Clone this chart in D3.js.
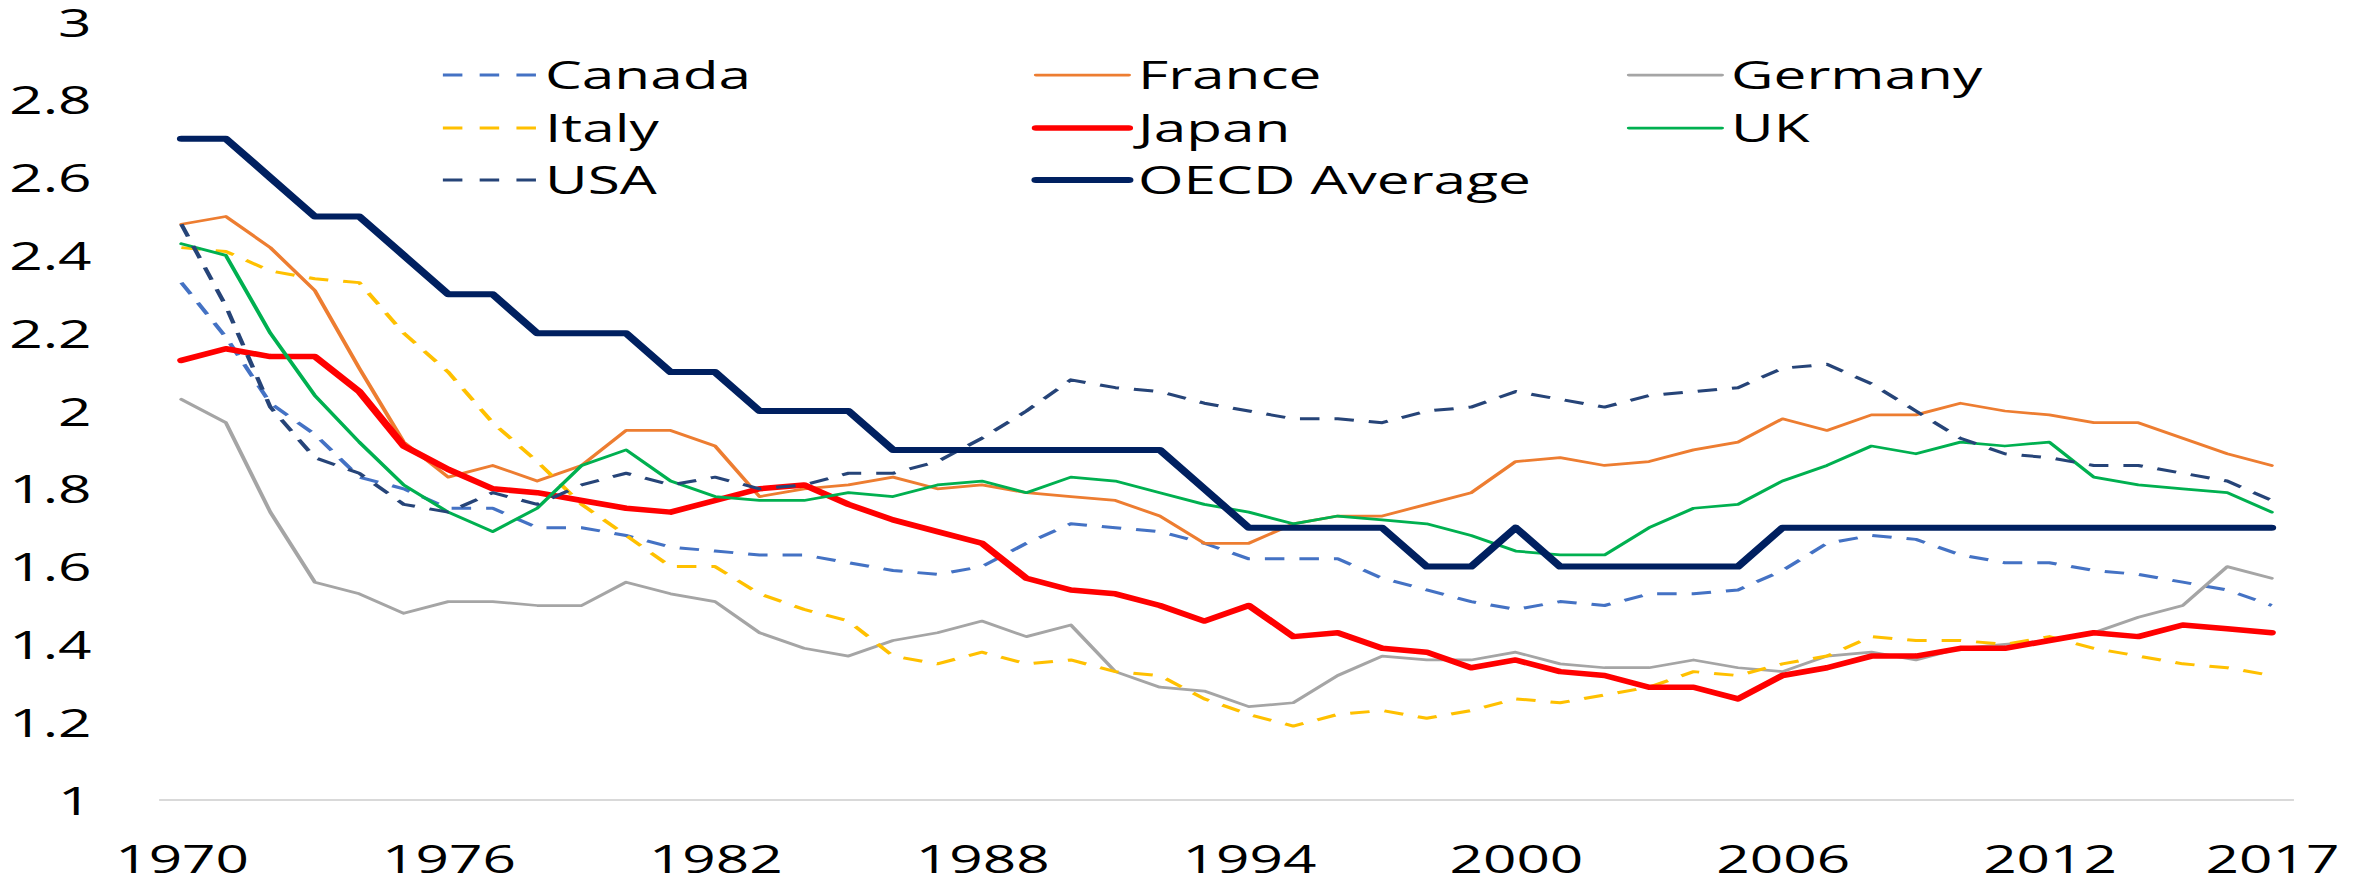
<!DOCTYPE html>
<html>
<head>
<meta charset="utf-8">
<script src="https://cdn.jsdelivr.net/npm/d3@7"></script>
<style>
  html, body { margin: 0; padding: 0; background: #ffffff; }
  svg { display: block; }
  text { font-family: "Open Sans", "Noto Sans", sans-serif; fill: #000000; }
</style>
</head>
<body>
<div id="chart"></div>
<script>
// ---- data ----
const years = [1970,1971,1972,1973,1974,1975,1976,1977,1978,1979,
  1980,1981,1982,1983,1984,1985,1986,1987,1988,1989,
  1990,1991,1992,1993,1994,1995,1996,1997,1998,1999,
  2000,2001,2002,2003,2004,2005,2006,2007,2008,2009,
  2010,2011,2012,2013,2014,2015,2016,2017];

const canada = [2.33,2.19,2.02,1.94,1.83,1.80,1.75,1.75,1.70,1.70,
  1.68,1.65,1.64,1.63,1.63,1.61,1.59,1.58,1.60,1.66,
  1.71,1.70,1.69,1.66,1.62,1.62,1.62,1.57,1.54,1.51,
  1.49,1.51,1.50,1.53,1.53,1.54,1.59,1.66,1.68,1.67,
  1.63,1.61,1.61,1.59,1.58,1.56,1.54,1.50];

const france = [2.48,2.50,2.42,2.31,2.11,1.92,1.83,1.86,1.82,1.86,
  1.95,1.95,1.91,1.78,1.80,1.81,1.83,1.80,1.81,1.79,
  1.78,1.77,1.73,1.66,1.66,1.71,1.73,1.73,1.76,1.79,
  1.87,1.88,1.86,1.87,1.90,1.92,1.98,1.95,1.99,1.99,
  2.02,2.00,1.99,1.97,1.97,1.93,1.89,1.86];

const germany = [2.03,1.97,1.74,1.56,1.53,1.48,1.51,1.51,1.50,1.50,
  1.56,1.53,1.51,1.43,1.39,1.37,1.41,1.43,1.46,1.42,
  1.45,1.33,1.29,1.28,1.24,1.25,1.32,1.37,1.36,1.36,
  1.38,1.35,1.34,1.34,1.36,1.34,1.33,1.37,1.38,1.36,
  1.39,1.40,1.41,1.43,1.47,1.50,1.60,1.57];

const italy = [2.42,2.41,2.36,2.34,2.33,2.20,2.10,1.97,1.87,1.76,
  1.68,1.60,1.60,1.53,1.49,1.46,1.37,1.35,1.38,1.35,
  1.36,1.33,1.32,1.26,1.22,1.19,1.22,1.23,1.21,1.23,
  1.26,1.25,1.27,1.29,1.33,1.32,1.35,1.37,1.42,1.41,
  1.41,1.40,1.42,1.39,1.37,1.35,1.34,1.32];

const japan = [2.13,2.16,2.14,2.14,2.05,1.91,1.85,1.80,1.79,1.77,
  1.75,1.74,1.77,1.80,1.81,1.76,1.72,1.69,1.66,1.57,
  1.54,1.53,1.50,1.46,1.50,1.42,1.43,1.39,1.38,1.34,
  1.36,1.33,1.32,1.29,1.29,1.26,1.32,1.34,1.37,1.37,
  1.39,1.39,1.41,1.43,1.42,1.45,1.44,1.43];

const uk = [2.43,2.40,2.20,2.04,1.92,1.81,1.74,1.69,1.75,1.86,
  1.90,1.82,1.78,1.77,1.77,1.79,1.78,1.81,1.82,1.79,
  1.83,1.82,1.79,1.76,1.74,1.71,1.73,1.72,1.71,1.68,
  1.64,1.63,1.63,1.70,1.75,1.76,1.82,1.86,1.91,1.89,
  1.92,1.91,1.92,1.83,1.81,1.80,1.79,1.74];

const usa = [2.48,2.27,2.01,1.88,1.84,1.76,1.74,1.79,1.76,1.81,
  1.84,1.81,1.83,1.80,1.81,1.84,1.84,1.87,1.93,2.00,
  2.08,2.06,2.05,2.02,2.00,1.98,1.98,1.97,2.00,2.01,
  2.05,2.03,2.01,2.04,2.05,2.06,2.11,2.12,2.07,2.00,
  1.93,1.89,1.88,1.86,1.86,1.84,1.82,1.77];

const oecd = [2.7,2.7,2.6,2.5,2.5,2.4,2.3,2.3,2.2,2.2,
  2.2,2.1,2.1,2.0,2.0,2.0,1.9,1.9,1.9,1.9,
  1.9,1.9,1.9,1.8,1.7,1.7,1.7,1.7,1.6,1.6,
  1.7,1.6,1.6,1.6,1.6,1.6,1.7,1.7,1.7,1.7,
  1.7,1.7,1.7,1.7,1.7,1.7,1.7,1.7];

const seriesNames = ["Canada","France","Germany","Italy","Japan","UK","USA","OECD Average"];
const seriesValues = [canada, france, germany, italy, japan, uk, usa, oecd];
const xTickLabels = [1970,1976,1982,1988,1994,2000,2006,2012,2017];
const yTickLabels = [1,1.2,1.4,1.6,1.8,2,2.2,2.4,2.6,2.8,3];

// ---- styles ----
const styles = {
  "Canada":       {color:"#4472C4", width:3,   dash:"13,10"},
  "France":       {color:"#ED7D31", width:2.75,dash:null},
  "Germany":      {color:"#A5A5A5", width:2.75,dash:null},
  "Italy":        {color:"#FFC000", width:3,   dash:"13,10"},
  "Japan":        {color:"#FF0000", width:5.5, dash:null},
  "UK":           {color:"#00B050", width:2.75,dash:null},
  "USA":          {color:"#264478", width:3,   dash:"13,10"},
  "OECD Average": {color:"#002060", width:6,   dash:null}
};

// ---- layout (drawn in a 1568-wide space, stretched to 2354) ----
const W = 2354, H = 878, VW = 1568;
const plotL = 106, plotR = 1528, yBottom = 800, yTop = 22;

const svg = d3.select("#chart").append("svg")
  .attr("width", W).attr("height", H)
  .attr("viewBox", `0 0 ${VW} ${H}`)
  .attr("preserveAspectRatio", "none");

const x = d3.scalePoint().domain(years).range([plotL, plotR]).padding(0.5);
const y = d3.scaleLinear().domain([1, 3]).range([yBottom, yTop]);

// baseline gridline at 1
svg.append("line")
  .attr("x1", plotL).attr("x2", plotR)
  .attr("y1", y(1)).attr("y2", y(1))
  .attr("stroke", "#D9D9D9").attr("stroke-width", 2);

// y axis labels
const yAxis = d3.axisLeft(y).tickValues(yTickLabels).tickSize(0).tickPadding(0)
  .tickFormat(d => String(d));
const gy = svg.append("g").attr("transform", "translate(61,0)").call(yAxis);
gy.select(".domain").remove();
gy.selectAll("text").attr("font-size", 39).attr("font-family", '"Open Sans", sans-serif')
  .attr("fill", "#000").attr("dy", "0.36em").attr("x", 0);

// x axis labels
const xAxis = d3.axisBottom(x).tickValues(xTickLabels).tickSize(0).tickPadding(0)
  .tickFormat(d => String(d));
const gx = svg.append("g").attr("transform", `translate(0,${yBottom})`).call(xAxis);
gx.select(".domain").remove();
gx.selectAll("text").attr("font-size", 39).attr("font-family", '"Open Sans", sans-serif')
  .attr("fill", "#000").attr("y", 73).attr("dy", 0);

// lines
const line = d3.line().x((d, i) => x(years[i])).y(d => y(d));
seriesNames.forEach((name, k) => {
  const s = styles[name];
  svg.append("path")
    .datum(seriesValues[k])
    .attr("d", line)
    .attr("fill", "none")
    .attr("stroke", s.color)
    .attr("stroke-width", s.width)
    .attr("stroke-linejoin", "round")
    .attr("stroke-linecap", s.dash ? "butt" : "round")
    .attr("stroke-dasharray", s.dash);
});

// legend
const legendCols = [295, 690, 1085];
const legendRows = [75, 128, 180];
const leg = svg.append("g");
seriesNames.forEach((name, k) => {
  const s = styles[name];
  const cx = legendCols[k % 3], cy = legendRows[Math.floor(k / 3)];
  leg.append("line")
    .attr("x1", cx).attr("x2", cx + 62).attr("y1", cy).attr("y2", cy)
    .attr("stroke", s.color).attr("stroke-width", s.width)
    .attr("stroke-linecap", s.dash ? "butt" : "round")
    .attr("stroke-dasharray", s.dash ? "13,11.5" : null);
  leg.append("text")
    .attr("x", cx + 68).attr("y", cy).attr("dy", "0.36em")
    .attr("font-size", 39)
    .text(name);
});
</script>
</body>
</html>
